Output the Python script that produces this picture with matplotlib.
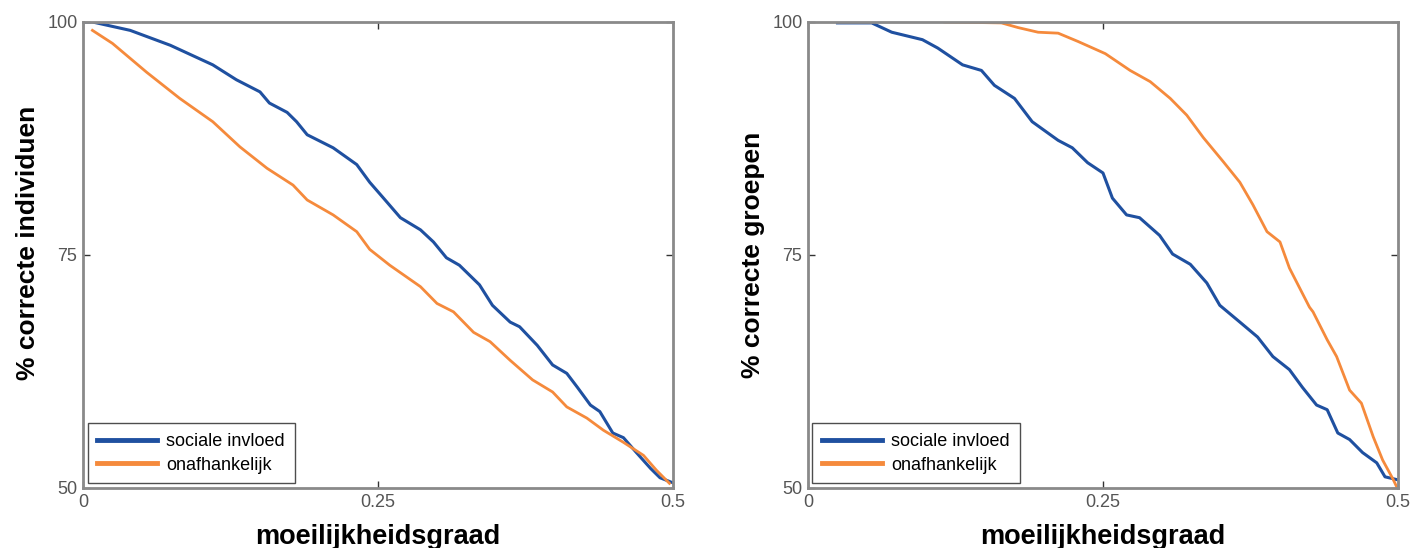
import numpy as np
import matplotlib.pyplot as plt

plt.rcParams['font.family'] = ['Liberation Sans', 'DejaVu Sans']

# linker paneel: % correcte individuen
ind_x_sociaal = [0.0, 0.008, 0.040, 0.074, 0.110, 0.130, 0.150, 0.158, 0.173, 0.181, 0.190,
                 0.212, 0.232, 0.243, 0.254, 0.269, 0.286, 0.297, 0.308, 0.319, 0.336,
                 0.347, 0.362, 0.370, 0.385, 0.398, 0.410, 0.419, 0.430, 0.438, 0.449,
                 0.458, 0.469, 0.481, 0.489, 0.499]
ind_y_sociaal = [100.0, 100.0, 99.1, 97.5, 95.4, 93.8, 92.5, 91.3, 90.3, 89.3, 87.9,
                 86.5, 84.7, 82.8, 81.2, 79.0, 77.7, 76.4, 74.7, 73.9, 71.8,
                 69.6, 67.8, 67.3, 65.3, 63.2, 62.3, 60.8, 58.9, 58.2, 55.9,
                 55.4, 53.8, 52.1, 51.1, 50.6]
ind_x_onafh = [0.008, 0.025, 0.054, 0.082, 0.110, 0.133, 0.156, 0.178, 0.190, 0.212,
               0.232, 0.243, 0.260, 0.286, 0.300, 0.314, 0.331, 0.345, 0.362, 0.381,
               0.398, 0.410, 0.427, 0.441, 0.458, 0.475, 0.486, 0.497]
ind_y_onafh = [99.1, 97.7, 94.6, 91.8, 89.3, 86.6, 84.3, 82.5, 80.9, 79.3,
               77.5, 75.6, 73.9, 71.6, 69.8, 68.9, 66.7, 65.7, 63.7, 61.6,
               60.3, 58.7, 57.5, 56.2, 54.9, 53.5, 51.9, 50.5]

# rechter paneel: % correcte groepen
grp_x_sociaal = [0.025, 0.054, 0.071, 0.097, 0.110, 0.131, 0.147, 0.158, 0.175, 0.190,
                 0.212, 0.224, 0.237, 0.250, 0.258, 0.270, 0.281, 0.298, 0.309, 0.324,
                 0.338, 0.349, 0.366, 0.381, 0.394, 0.408, 0.419, 0.431, 0.440, 0.449,
                 0.459, 0.470, 0.482, 0.489, 0.499]
grp_y_sociaal = [99.9, 99.9, 98.9, 98.1, 97.2, 95.4, 94.8, 93.2, 91.8, 89.3,
                 87.3, 86.5, 84.9, 83.8, 81.1, 79.3, 79.0, 77.1, 75.1, 74.0,
                 72.0, 69.6, 67.8, 66.2, 64.1, 62.7, 60.8, 58.9, 58.4, 55.9,
                 55.2, 53.8, 52.7, 51.2, 50.9]
grp_x_onafh = [0.116, 0.164, 0.178, 0.195, 0.212, 0.229, 0.252, 0.273, 0.290, 0.307,
               0.321, 0.335, 0.352, 0.366, 0.377, 0.389, 0.400, 0.408, 0.425, 0.428,
               0.440, 0.448, 0.459, 0.469, 0.479, 0.487, 0.496, 0.499]
grp_y_onafh = [100.0, 99.9, 99.4, 98.9, 98.8, 97.9, 96.6, 94.8, 93.6, 91.8,
               90.0, 87.6, 85.0, 82.8, 80.4, 77.5, 76.4, 73.6, 69.4, 68.9,
               65.9, 64.1, 60.5, 59.1, 55.5, 53.0, 50.9, 50.1]

labels = ['sociale invloed', 'onafhankelijk']
x_ticks = [0, 0.25, 0.5]
x_ticklabels = ['0', '0.25', '0.5']
y_ticks = [50, 75, 100]
ylabels = ['% correcte individuen', '% correcte groepen']

blauw = '#1f50a0'
oranje = '#f58a3c'

fig = plt.figure(figsize=(14.21, 5.48), dpi=100)
ax1 = fig.add_axes([0.0584, 0.1095, 0.4152, 0.8504])
ax2 = fig.add_axes([0.5686, 0.1095, 0.4152, 0.8504])

series = [
    (ax1, ind_x_sociaal, ind_y_sociaal, ind_x_onafh, ind_y_onafh, ylabels[0], 0.527),
    (ax2, grp_x_sociaal, grp_y_sociaal, grp_x_onafh, grp_y_onafh, ylabels[1], 0.5),
]

for ax, xs, ys, xo, yo, ylab, ypos in series:
    ax.plot(xs, ys, color=blauw, lw=2.2, label=labels[0])
    ax.plot(xo, yo, color=oranje, lw=2.0, label=labels[1])
    ax.set_xlim(0, 0.5)
    ax.set_ylim(50, 100)
    ax.set_xticks(x_ticks)
    ax.set_xticklabels(x_ticklabels)
    ax.set_yticks(y_ticks)
    ax.tick_params(direction='in', length=5, width=1, top=True, right=True,
                   labelsize=13, labelcolor='#555555', color='#333333', pad=4)
    for sp in ax.spines.values():
        sp.set_color('#8a8a8a')
        sp.set_linewidth(2)
    ax.set_xlabel('moeilijkheidsgraad', fontsize=19.5, fontweight='bold', labelpad=10)
    ax.set_ylabel(ylab, fontsize=19, fontweight='bold', labelpad=5)
    ax.yaxis.label.set_y(ypos)
    leg = ax.legend(loc='lower left', fontsize=13, frameon=True, fancybox=False,
                    edgecolor='#222222', handlelength=3.3, borderaxespad=0.25,
                    borderpad=0.55, labelspacing=0.35, handletextpad=0.5)
    leg.get_frame().set_linewidth(1.0)
    for line in leg.get_lines():
        line.set_linewidth(3.5)

fig.savefig('out.png', dpi=100)
